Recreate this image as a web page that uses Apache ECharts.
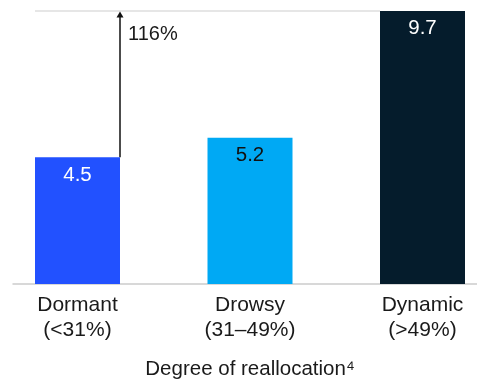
<!DOCTYPE html>
<html>
<head>
<meta charset="utf-8">
<script src="https://cdn.jsdelivr.net/npm/echarts@6/dist/echarts.min.js"></script>
<style>
  html, body { margin: 0; padding: 0; background: #fff; }
  #chart { width: 477px; height: 382px; }
</style>
</head>
<body>
<div id="chart"></div>
<script>
// Reallocation groups and their values
const categories = ['Dormant\n(<31%)', 'Drowsy\n(31–49%)', 'Dynamic\n(>49%)'];
const values = [4.5, 5.2, 9.7];
const axisTitle = 'Degree of reallocation⁴';

// Growth annotation: from the first group up to the last group's level
const growthFrom = 0;
const growthTo = 2;
const growthLabel = '116%';

// Styling
const BAR_COLORS = ['#2251FF', '#00A9F4', '#051C2C'];
const LABEL_COLORS = ['#ffffff', '#111111', '#ffffff'];
const BAR_WIDTH = 85;
const FONT = '"Liberation Sans", Arial, sans-serif';
const TEXT = '#1a1a1a';

const chart = echarts.init(document.getElementById('chart'), null, { renderer: 'canvas' });

const yMax = Math.max(...values);

chart.setOption({
  animation: false,
  backgroundColor: '#ffffff',
  textStyle: { fontFamily: FONT },
  grid: [
    { left: 77.5, right: 54.5, top: 11, bottom: 98, containLabel: false, outerBoundsMode: 'none' },
    { left: 13, right: 0, top: 11, bottom: 98, containLabel: false, outerBoundsMode: 'none' }
  ],
  xAxis: [
    {
      type: 'category',
      gridIndex: 0,
      data: categories,
      boundaryGap: false,
      axisLine: { show: false },
      axisTick: { show: false },
      axisLabel: {
        color: TEXT,
        fontSize: 21,
        lineHeight: 25,
        margin: 9,
        fontFamily: FONT
      },
      name: axisTitle,
      nameLocation: 'middle',
      nameGap: 75,
      nameTextStyle: { color: TEXT, fontSize: 20.5, fontFamily: FONT }
    },
    {
      // full-width baseline
      type: 'category',
      gridIndex: 1,
      data: [''],
      axisLine: { show: true, lineStyle: { color: '#cccccc', width: 1.5 } },
      axisTick: { show: false },
      axisLabel: { show: false }
    }
  ],
  yAxis: [
    { type: 'value', gridIndex: 0, min: 0, max: yMax, show: false },
    { type: 'value', gridIndex: 1, min: 0, max: yMax, show: false }
  ],
  series: [
    {
      type: 'bar',
      xAxisIndex: 0,
      yAxisIndex: 0,
      barWidth: BAR_WIDTH,
      silent: true,
      z: 2,
      data: values.map((v, i) => ({
        value: v,
        itemStyle: { color: BAR_COLORS[i] },
        label: { color: LABEL_COLORS[i] }
      })),
      label: {
        show: true,
        position: 'insideTop',
        distance: 7,
        fontSize: 20.5,
        fontFamily: FONT,
        formatter: p => p.value.toFixed(1)
      }
    },
    {
      // guide line at the top level and the growth arrow
      type: 'custom',
      xAxisIndex: 0,
      yAxisIndex: 0,
      silent: true,
      clip: false,
      z: 1,
      data: [[growthFrom, growthTo]],
      renderItem: function (params, api) {
        const top = values[growthTo];
        const base = values[growthFrom];
        const half = BAR_WIDTH / 2;
        const pFromTop = api.coord([growthFrom, top]);
        const pFromBase = api.coord([growthFrom, base]);
        const pToTop = api.coord([growthTo, top]);
        const guideX1 = pFromTop[0] - half;
        const guideX2 = pToTop[0] - half;
        const ax = pFromTop[0] + half;
        const yTop = pFromTop[1];
        const yBase = pFromBase[1];
        return {
          type: 'group',
          children: [
            {
              type: 'line',
              shape: { x1: guideX1, y1: yTop, x2: guideX2, y2: yTop },
              style: { stroke: '#e6e6e6', lineWidth: 2 }
            },
            {
              type: 'line',
              shape: { x1: ax, y1: yTop + 5, x2: ax, y2: yBase },
              style: { stroke: '#111111', lineWidth: 1.5 }
            },
            {
              type: 'polygon',
              shape: { points: [[ax, yTop + 0.5], [ax - 3.5, yTop + 6.5], [ax + 3.5, yTop + 6.5]] },
              style: { fill: '#111111' }
            },
            {
              type: 'text',
              style: {
                text: growthLabel,
                x: ax + 8,
                y: yTop + 13,
                fill: TEXT,
                font: '20px ' + FONT,
                verticalAlign: 'top'
              }
            }
          ]
        };
      }
    }
  ]
});
</script>
</body>
</html>
